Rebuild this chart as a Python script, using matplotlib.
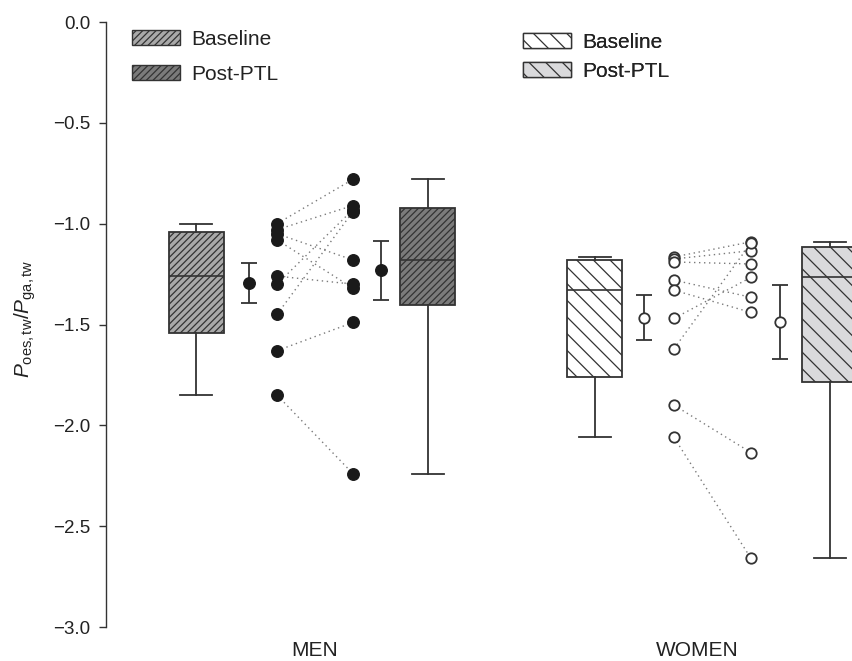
import numpy as np
import matplotlib
matplotlib.use("Agg")
import matplotlib.pyplot as plt
from matplotlib.patches import Patch

# ---------------- data ----------------
groups = ["MEN", "WOMEN"]
men_baseline = [-1.00, -1.03, -1.05, -1.08, -1.26, -1.30, -1.45, -1.63, -1.85]
men_post = [-0.78, -0.91, -1.18, -1.32, -1.30, -0.93, -0.94, -1.49, -2.24]
women_baseline = [-1.165, -1.175, -1.19, -1.28, -1.33, -1.47, -1.62, -1.90, -2.06]
women_post = [-1.09, -1.134, -1.20, -1.365, -1.44, -1.266, -1.095, -2.135, -2.66]
legend_labels = ["Baseline", "Post-PTL"]
y_ticks = [-3.0, -2.5, -2.0, -1.5, -1.0, -0.5, 0.0]

# ---------------- style ----------------
plt.rcParams['font.family'] = ['Liberation Sans', 'DejaVu Sans']
plt.rcParams['mathtext.fontset'] = 'custom'
plt.rcParams['mathtext.rm'] = 'Liberation Sans'
plt.rcParams['mathtext.it'] = 'Liberation Sans:italic'
plt.rcParams['hatch.color'] = '#333333'
plt.rcParams['hatch.linewidth'] = 0.9

LC = '#333333'
TC = '#222222'
W, H = 852, 661
fig = plt.figure(figsize=(W / 100, H / 100), dpi=100)
ax = fig.add_axes([106 / W, 34 / H, 1 - 106 / W, 605 / H])
ax.set_xlim(106, 852)
ax.set_ylim(-3.0, 0.0)

# layout (pixel-like x positions)
layout = {
    "MEN": dict(box=(196, 427.5), err=(249, 381), pts=(277, 353), label=315),
    "WOMEN": dict(box=(594.5, 829.5), err=(644, 780), pts=(674, 751), label=697),
}
box_styles = {
    "MEN": [dict(facecolor='#a9a9a9', hatch='/////'), dict(facecolor='#7b7b7b', hatch='/////')],
    "WOMEN": [dict(facecolor='#ffffff', hatch='\\\\'), dict(facecolor='#dadadc', hatch='\\\\')],
}
point_styles = {
    "MEN": dict(marker='o', ms=8.3, mfc='#1a1a1a', mec='#1a1a1a', mew=1.0),
    "WOMEN": dict(marker='o', ms=7.5, mfc='white', mec=LC, mew=1.3),
}
data = {"MEN": (men_baseline, men_post), "WOMEN": (women_baseline, women_post)}


def box_stats(vals):
    v = np.asarray(vals)
    q1, med, q3 = np.percentile(v, [25, 50, 75], method='weibull')
    return dict(med=med, q1=q1, q3=q3, whislo=v.min(), whishi=v.max(), fliers=[])


for g in groups:
    lay = layout[g]
    base, post = data[g]
    # paired dotted lines
    for b, p in zip(base, post):
        ax.plot(lay['pts'], [b, p], color='#7a7a7a', lw=1.0, ls=(0, (1, 2.6)), zorder=1)
    # points
    ax.plot([lay['pts'][0]] * len(base), base, ls='none', zorder=3, **point_styles[g])
    ax.plot([lay['pts'][1]] * len(post), post, ls='none', zorder=3, **point_styles[g])
    # mean +- SEM
    for xpos, vals in zip(lay['err'], (base, post)):
        v = np.asarray(vals)
        m = v.mean()
        sem = v.std(ddof=1) / np.sqrt(len(v))
        ax.errorbar([xpos], [m], yerr=[sem], fmt='none', ecolor=LC, elinewidth=1.3,
                    capsize=6.0, capthick=1.3, zorder=2)
        ax.plot([xpos], [m], ls='none', zorder=3, **point_styles[g])
    # boxes
    for xpos, vals, st in zip(lay['box'], (base, post), box_styles[g]):
        ax.bxp([box_stats(vals)], positions=[xpos], widths=55, capwidths=32,
               patch_artist=True, showfliers=False, manage_ticks=False,
               boxprops=dict(facecolor=st['facecolor'], edgecolor=LC, hatch=st['hatch'], lw=1.3),
               medianprops=dict(color=LC, lw=1.2),
               whiskerprops=dict(color=LC, lw=1.3),
               capprops=dict(color=LC, lw=1.3))

# axes styling
for s in ['top', 'right', 'bottom']:
    ax.spines[s].set_visible(False)
ax.spines['left'].set_color(LC)
ax.spines['left'].set_linewidth(1.0)
ax.set_yticks(y_ticks)
ax.set_yticklabels([('%.1f' % t).replace('-', '\u2212') if t != 0 else '0.0' for t in y_ticks])
ax.tick_params(axis='y', length=5, width=1.0, color=LC, pad=6.5, labelsize=13.5, labelcolor=TC)
ax.set_xticks([layout[g]['label'] for g in groups])
ax.set_xticklabels(groups)
ax.tick_params(axis='x', length=0, pad=10, labelsize=15, labelcolor=TC)

ax.set_ylabel(r'$P_{\mathregular{oes,tw}}/P_{\mathregular{ga,tw}}$', fontsize=15, color=TC)
ax.yaxis.set_label_coords((38 - 106) / 746, 0.51)

# legends
for g, anchor, lsp in (("MEN", (129, 27), 0.74), ("WOMEN", (520, 30), 0.48)):
    handles = [Patch(facecolor=st['facecolor'], edgecolor=LC, hatch=st['hatch'], lw=1.0)
               for st in box_styles[g]]
    leg = ax.legend(handles, legend_labels, loc='upper left',
                    bbox_to_anchor=(anchor[0] / W, 1 - anchor[1] / H),
                    bbox_transform=fig.transFigure, frameon=False, fontsize=15,
                    handlelength=2.3, handleheight=0.72, handletextpad=0.55,
                    labelspacing=lsp, borderpad=0.15, borderaxespad=0)
    for t in leg.get_texts():
        t.set_color(TC)
    ax.add_artist(leg)

fig.savefig('out.png', dpi=100)
